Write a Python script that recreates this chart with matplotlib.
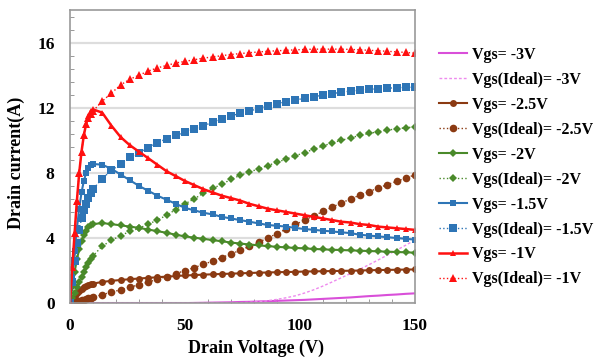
import matplotlib
matplotlib.use("Agg")
import matplotlib.pyplot as plt
from matplotlib.ticker import MultipleLocator

plt.rcParams['font.family'] = ['Liberation Serif', 'DejaVu Serif']
plt.rcParams['font.weight'] = 'bold'

vds = [0, 1, 2, 3, 4, 5, 6, 7, 8, 9, 10, 14, 18, 22, 26, 30, 34, 38, 42, 46, 50,
       54, 58, 62, 66, 70, 74, 78, 82, 86, 90, 94, 98, 102, 106, 110, 114, 118,
       122, 126, 130, 134, 138, 142, 146, 150]

id_m3 = [0, 0, 0, 0, 0, 0, 0, 0, 0, 0, 0, 0, 0, 0, 0, 0, 0, 0, 0, 0, 0,
         0.01, 0.02, 0.03, 0.04, 0.05, 0.07, 0.08, 0.10, 0.12, 0.14, 0.16, 0.18,
         0.20, 0.23, 0.26, 0.29, 0.32, 0.35, 0.39, 0.43, 0.46, 0.50, 0.53, 0.57, 0.60]
id_m3_ideal = [0, 0, 0, 0, 0, 0, 0, 0, 0, 0, 0, 0, 0, 0, 0, 0, 0, 0, 0, 0, 0,
               0, 0, 0, 0, 0.0, 0.02, 0.05, 0.09, 0.15, 0.23, 0.33, 0.45, 0.62,
               0.82, 1.05, 1.30, 1.56, 1.82, 2.08, 2.36, 2.65, 2.95, 3.25, 3.56, 3.88]

id_m25 = [0, 0.25, 0.45, 0.62, 0.75, 0.87, 0.97, 1.05, 1.12, 1.17, 1.20, 1.30, 1.37,
          1.42, 1.47, 1.51, 1.55, 1.59, 1.63, 1.66, 1.70, 1.72, 1.75, 1.77, 1.79,
          1.81, 1.83, 1.85, 1.87, 1.88, 1.90, 1.91, 1.92, 1.94, 1.95, 1.96, 1.97,
          1.98, 1.99, 2.00, 2.02, 2.03, 2.04, 2.05, 2.06, 2.07]
id_m25_ideal = [0, 0.03, 0.07, 0.10, 0.14, 0.18, 0.22, 0.26, 0.30, 0.33, 0.37, 0.52,
                0.67, 0.82, 0.97, 1.13, 1.29, 1.46, 1.63, 1.81, 2.00, 2.18, 2.38,
                2.58, 2.80, 3.02, 3.25, 3.49, 3.74, 4.00, 4.27, 4.55, 4.83, 5.10,
                5.37, 5.63, 5.90, 6.15, 6.40, 6.63, 6.85, 7.07, 7.28, 7.48, 7.68, 7.88]

id_m2 = [0, 1.0, 1.9, 2.7, 3.3, 3.8, 4.2, 4.45, 4.65, 4.78, 4.85, 4.92, 4.85, 4.78,
         4.70, 4.62, 4.52, 4.42, 4.32, 4.20, 4.10, 4.02, 3.95, 3.87, 3.80, 3.72,
         3.66, 3.60, 3.55, 3.50, 3.46, 3.42, 3.39, 3.36, 3.33, 3.30, 3.28, 3.26,
         3.24, 3.22, 3.20, 3.18, 3.16, 3.14, 3.12, 3.10]
id_m2_ideal = [0, 0.3, 0.65, 1.0, 1.3, 1.6, 1.9, 2.2, 2.45, 2.7, 2.9, 3.5, 3.85,
               4.15, 4.40, 4.60, 4.85, 5.10, 5.40, 5.75, 6.10, 6.40, 6.75, 7.05,
               7.30, 7.60, 7.85, 8.05, 8.25, 8.45, 8.65, 8.85, 9.05, 9.25, 9.45,
               9.65, 9.85, 10.0, 10.15, 10.30, 10.42, 10.53, 10.63, 10.70, 10.77, 10.83]

id_m15 = [0, 1.6, 3.2, 4.6, 5.8, 6.8, 7.5, 8.0, 8.3, 8.5, 8.55, 8.5, 8.25, 7.9,
          7.55, 7.2, 6.9, 6.6, 6.35, 6.1, 5.85, 5.7, 5.55, 5.45, 5.3, 5.2, 5.1,
          5.0, 4.9, 4.8, 4.75, 4.7, 4.62, 4.55, 4.5, 4.45, 4.4, 4.35, 4.3, 4.2,
          4.15, 4.1, 4.05, 4.0, 3.95, 3.9]
id_m15_ideal = [0, 1.3, 2.6, 3.7, 4.5, 5.2, 5.7, 6.1, 6.45, 6.75, 7.0, 7.65, 8.15,
                8.55, 8.95, 9.25, 9.55, 9.85, 10.1, 10.3, 10.5, 10.7, 10.9, 11.1,
                11.3, 11.5, 11.65, 11.8, 11.95, 12.1, 12.25, 12.37, 12.48, 12.58,
                12.68, 12.78, 12.87, 12.95, 13.03, 13.08, 13.13, 13.17, 13.2,
                13.23, 13.25, 13.27]

id_m1 = [0, 2.2, 4.3, 6.3, 8.0, 9.3, 10.3, 11.0, 11.5, 11.8, 11.9, 11.7, 10.9,
         10.2, 9.7, 9.3, 8.9, 8.5, 8.1, 7.8, 7.5, 7.25, 7.0, 6.8, 6.6, 6.45, 6.3,
         6.1, 5.95, 5.8, 5.7, 5.6, 5.5, 5.4, 5.3, 5.2, 5.1, 5.0, 4.95, 4.85, 4.8,
         4.7, 4.65, 4.6, 4.55, 4.5]
id_m1_ideal = [0, 2.2, 4.3, 6.3, 8.0, 9.3, 10.3, 11.0, 11.4, 11.6, 11.8, 12.4,
               12.9, 13.4, 13.75, 14.0, 14.25, 14.45, 14.6, 14.75, 14.85, 14.95,
               15.05, 15.12, 15.2, 15.27, 15.33, 15.38, 15.43, 15.47, 15.5, 15.53,
               15.56, 15.58, 15.6, 15.6, 15.6, 15.6, 15.58, 15.56, 15.53, 15.5,
               15.47, 15.43, 15.4, 15.35]

labels = ['Vgs= -3V', 'Vgs(Ideal)= -3V', 'Vgs= -2.5V', 'Vgs(Ideal)= -2.5V',
          'Vgs= -2V', 'Vgs(Ideal)= -2V', 'Vgs= -1.5V', 'Vgs(Ideal)= -1.5V',
          'Vgs= -1V', 'Vgs(Ideal)= -1V']

series = [id_m3, id_m3_ideal, id_m25, id_m25_ideal, id_m2, id_m2_ideal,
          id_m15, id_m15_ideal, id_m1, id_m1_ideal]
colors = ['#D94FD9', '#EE8AEE', '#8B3A12', '#8B3A12', '#4A8A2A', '#4A8A2A',
          '#2E75B6', '#2E75B6', '#FF1010', '#FF1010']
styles = ['-', (0, (2, 1.5)), '-', ':', '-', ':', '-', ':', '-', ':']
markers = [None, None, 'o', 'o', 'D', 'D', 's', 's', '^', '^']
msizes = [0, 0, 5, 5.5, 4.2, 4.5, 5, 5.5, 5, 6]
lwidths = [1.5, 1.0, 1.5, 1.0, 1.5, 1.0, 1.5, 1.0, 1.8, 1.0]

fig = plt.figure(figsize=(6.02, 3.6), dpi=100)
ax = fig.add_axes([0.1163, 0.158, 0.573, 0.814])

for ys, lab, c, ls, mk, ms, lw in zip(series, labels, colors, styles, markers, msizes, lwidths):
    ax.plot(vds, ys, color=c, linestyle=ls, marker=mk, markersize=ms,
            linewidth=lw, label=lab, markeredgewidth=0)

ax.set_xlim(0, 150)
ax.set_ylim(0, 18)
ax.set_xticks([0, 50, 100, 150])
ax.set_yticks([0, 4, 8, 12, 16])
ax.xaxis.set_minor_locator(MultipleLocator(10))
ax.yaxis.set_minor_locator(MultipleLocator(0.8))
ax.tick_params(axis='both', which='both', direction='in', colors='#888888',
               labelcolor='black', labelsize=12.5)
ax.tick_params(axis='y', which='major', length=0, pad=11)
ax.tick_params(axis='x', which='major', length=0, pad=11)
ax.tick_params(axis='both', which='minor', length=3)
ax.yaxis.grid(True, color='#dddddd', linewidth=1.6)
ax.set_axisbelow(True)
for sp in ax.spines.values():
    sp.set_color('#999999')
    sp.set_linewidth(1.2)

ax.set_xlabel('Drain Voltage (V)', fontsize=13, fontweight='bold')
ax.xaxis.set_label_coords(0.539, -0.125, transform=ax.transAxes)
ax.set_ylabel('Drain current(A)', fontsize=13, fontweight='bold')
ax.yaxis.set_label_coords(-0.13, 0.478, transform=ax.transAxes)

leg = ax.legend(loc='center left', bbox_to_anchor=(1.05, 0.464), frameon=False,
                fontsize=11.5, handlelength=1.8, handletextpad=0.3,
                labelspacing=0.56, borderaxespad=0)

fig.savefig('out.png', dpi=100)
